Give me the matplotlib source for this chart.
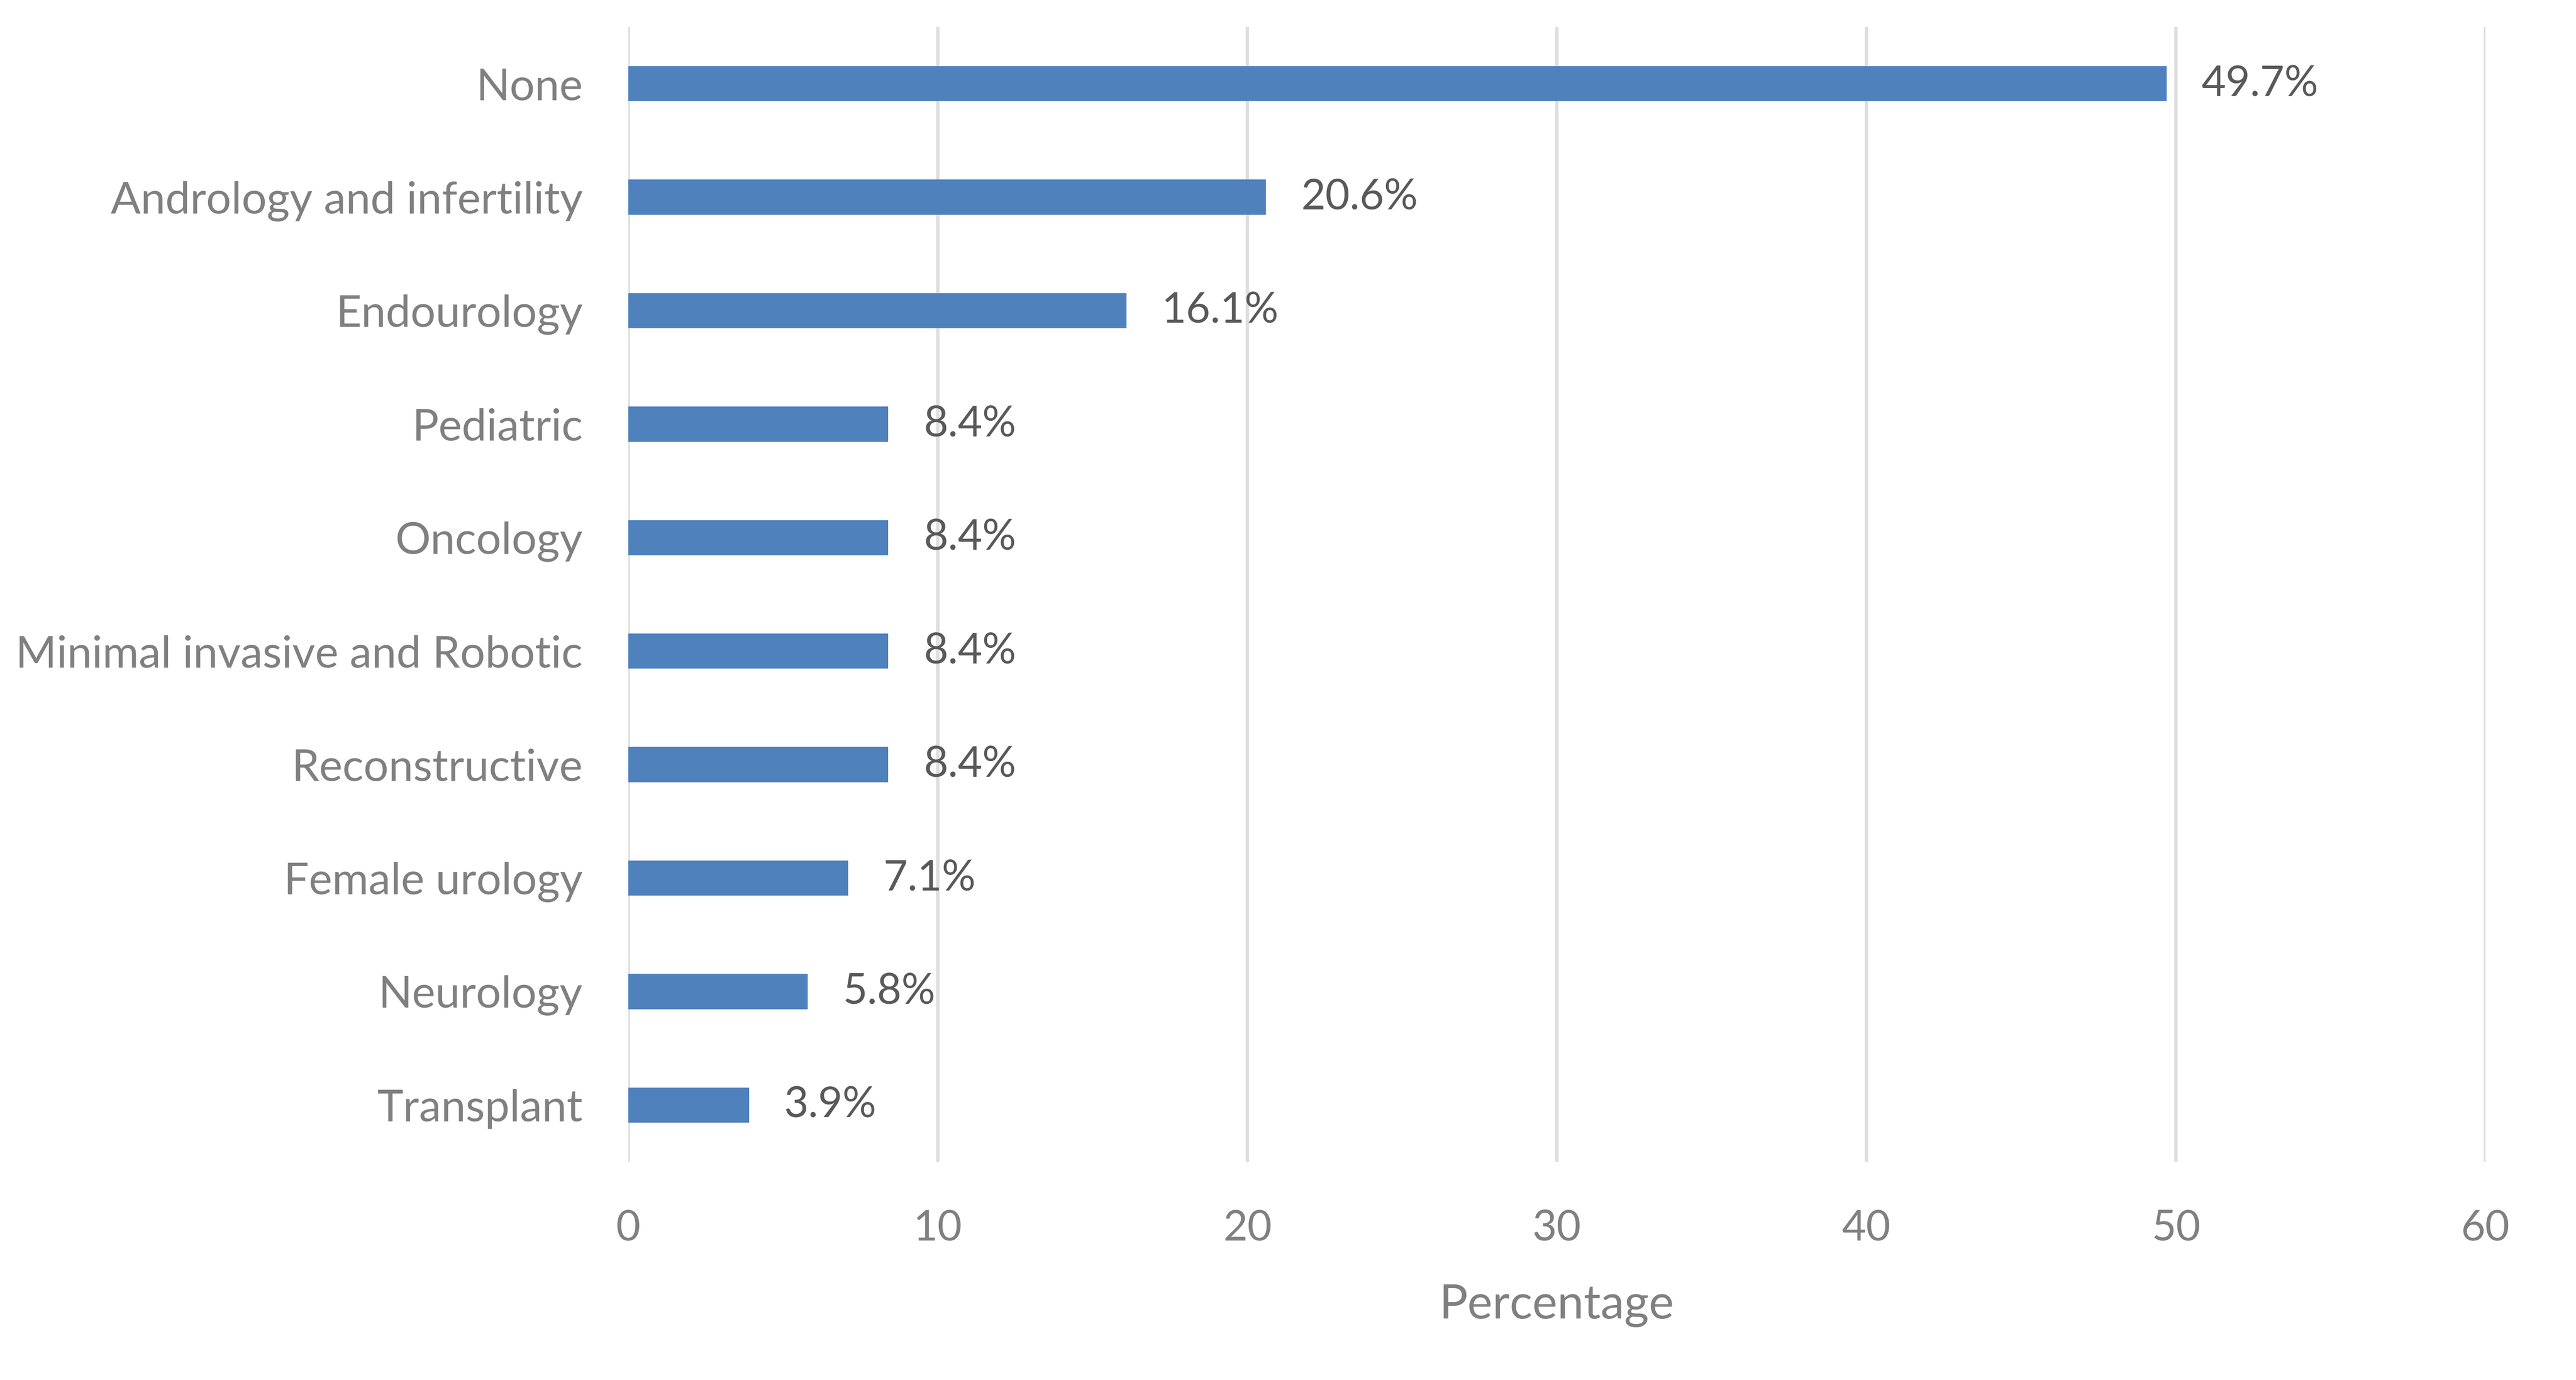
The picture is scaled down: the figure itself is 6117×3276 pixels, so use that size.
import matplotlib
matplotlib.use('Agg')
import matplotlib.pyplot as plt

plt.rcParams['font.family'] = ['Lato', 'DejaVu Sans']

categories = [
    "None",
    "Andrology and infertility",
    "Endourology",
    "Pediatric",
    "Oncology",
    "Minimal invasive and Robotic",
    "Reconstructive",
    "Female urology",
    "Neurology",
    "Transplant",
]
percentages = [49.7, 20.6, 16.1, 8.4, 8.4, 8.4, 8.4, 7.1, 5.8, 3.9]
x_ticks = [0, 10, 20, 30, 40, 50, 60]

fig = plt.figure(figsize=(6117 / 300, 3276 / 300), dpi=300)
ax = fig.add_axes([1492 / 6117, 1 - 2758 / 3276, (5902 - 1492) / 6117, (2758 - 64) / 3276])

bars = ax.barh(categories, percentages, height=0.31, color="#4F81BD", zorder=3)
ax.bar_label(bars, labels=[f"{v}%" for v in percentages], padding=20,
             fontsize=24, color="#595959")

ax.set_xlim(0, 60)
ax.set_ylim(9.5, -0.5)
ax.set_xticks(x_ticks)
ax.grid(axis="x", color="#DEDEDE", linewidth=1.9, zorder=0)
for s in ax.spines.values():
    s.set_visible(False)
ax.tick_params(axis="y", length=0, pad=26, labelsize=25.2, labelcolor="#808080")
ax.tick_params(axis="x", length=0, pad=27, labelsize=24, labelcolor="#808080")
ax.set_xlabel("Percentage", fontsize=27, color="#808080", labelpad=21)

fig.savefig("out.png", dpi=300)
